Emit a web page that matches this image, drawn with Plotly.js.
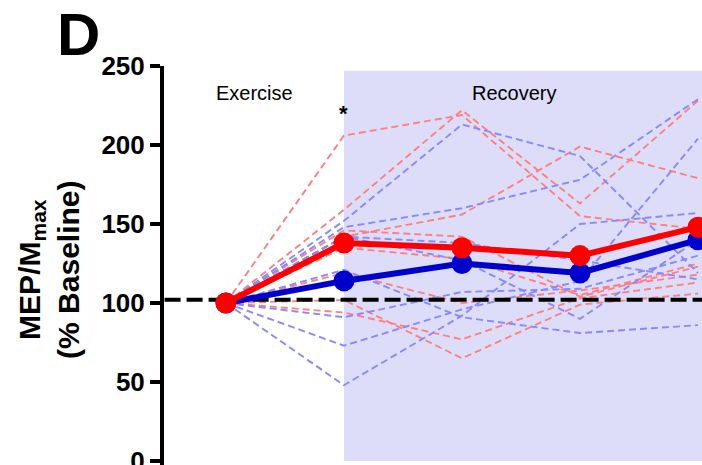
<!DOCTYPE html>
<html>
<head>
<meta charset="utf-8">
<script src="https://cdn.plot.ly/plotly-3.0.1.min.js"></script>
<style>
  html, body { margin: 0; padding: 0; background: #ffffff; }
  #chart { width: 702px; height: 465px; }
</style>
</head>
<body>
<div id="chart"></div>
<script>
// Time points: baseline, end of exercise, then recovery measurements
const timePoints = [0, 1, 2, 3, 4];

// Individual participants, condition A (red), MEP/Mmax as % of baseline
const redSubjects = [
  [100, 206, 219, 155, 147],
  [100, 159, 222, 163, 228],
  [100, 142, 156, 199, 179],
  [100, 146, 142, 104, 123],
  [100, 119, 100, 108, 118],
  [100, 94, 77, 103, 113],
  [100, 102, 65, 99, 106],
  [100, 135, 128, 105, 125]
];

// Individual participants, condition B (blue)
const blueSubjects = [
  [100, 152, 213, 193, 119],
  [100, 148, 160, 178, 229],
  [100, 142, 127, 90, 140],
  [100, 73, 96, 114, 204],
  [100, 48, 92, 150, 157],
  [100, 91, 107, 109, 130],
  [100, 121, 91, 81, 86],
  [100, 142, 138, 127, 115]
];

// Group means
const redMean = [100, 138, 135, 130, 148];
const blueMean = [100, 114, 125, 119, 140];

// Reference level drawn as a dashed line
const baselineLevel = 102;

const yTickValues = [0, 50, 100, 150, 200, 250];
const yTickLabels = ['0', '50', '100', '150', '200', '250'];

const FONT = 'Arial, "Liberation Sans", Helvetica, sans-serif';

const traces = [];

redSubjects.forEach(function (vals) {
  traces.push({
    x: timePoints, y: vals, type: 'scatter', mode: 'lines',
    line: { color: 'rgb(255,128,128)', width: 1.9, dash: '7px,4px' },
    hoverinfo: 'skip', showlegend: false
  });
});
blueSubjects.forEach(function (vals) {
  traces.push({
    x: timePoints, y: vals, type: 'scatter', mode: 'lines',
    line: { color: 'rgb(136,136,255)', width: 1.9, dash: '7px,4px' },
    hoverinfo: 'skip', showlegend: false
  });
});

// Dashed baseline across the whole plot
traces.push({
  x: [-0.52, 4.1], y: [baselineLevel, baselineLevel], type: 'scatter', mode: 'lines',
  line: { color: '#000000', width: 4, dash: '16px,6px' },
  hoverinfo: 'skip', showlegend: false
});

traces.push({
  x: timePoints, y: blueMean, type: 'scatter', mode: 'lines+markers',
  line: { color: 'rgb(0,0,205)', width: 6 },
  marker: { color: 'rgb(0,0,205)', size: 21 },
  showlegend: false
});
traces.push({
  x: timePoints, y: redMean, type: 'scatter', mode: 'lines+markers',
  line: { color: 'rgb(255,0,0)', width: 6 },
  marker: { color: 'rgb(255,0,0)', size: 21 },
  showlegend: false
});

const layout = {
  width: 702,
  height: 465,
  margin: { l: 164, r: 0, t: 66, b: 0, pad: 0 },
  paper_bgcolor: '#ffffff',
  plot_bgcolor: '#ffffff',
  showlegend: false,
  xaxis: {
    range: [-0.525, 4.034],
    visible: false,
    fixedrange: true
  },
  yaxis: {
    range: [-2.5, 250],
    tickvals: yTickValues,
    ticktext: yTickLabels,
    showgrid: false,
    zeroline: false,
    showline: true,
    linecolor: '#000000',
    linewidth: 4,
    ticks: 'outside',
    ticklen: 10,
    tickwidth: 4,
    tickcolor: '#000000',
    ticklabeloverflow: 'allow',
    tickfont: { family: FONT, size: 26, color: '#000000', weight: 700 },
    fixedrange: true
  },
  shapes: [
    {
      type: 'rect', xref: 'x', yref: 'y',
      x0: 1, x1: 4.2, y0: 0, y1: 247,
      fillcolor: 'rgb(221,221,250)', line: { width: 0 }, layer: 'below'
    }
  ],
  annotations: [
    {
      text: 'D', xref: 'paper', yref: 'paper', x: -0.1580, y: 1.0777,
      xanchor: 'center', yanchor: 'middle', showarrow: false,
      font: { family: FONT, size: 60, color: '#000000', weight: 700 }
    },
    {
      text: 'MEP/M<sub>max</sub><br>(% Baseline)', xref: 'paper', yref: 'paper',
      x: -0.2140, y: 0.4887, xanchor: 'center', yanchor: 'middle',
      textangle: -90, showarrow: false,
      font: { family: FONT, size: 30, color: '#000000', weight: 700 }
    },
    {
      text: 'Exercise', xref: 'x', yref: 'y', x: 0.246, y: 233,
      xanchor: 'center', yanchor: 'middle', showarrow: false,
      font: { family: FONT, size: 20, color: '#000000' }
    },
    {
      text: 'Recovery', xref: 'x', yref: 'y', x: 2.44, y: 233,
      xanchor: 'center', yanchor: 'middle', showarrow: false,
      font: { family: FONT, size: 20, color: '#000000' }
    },
    {
      text: '*', xref: 'x', yref: 'y', x: 1, y: 220,
      xanchor: 'center', yanchor: 'middle', showarrow: false,
      font: { family: FONT, size: 22, color: '#000000', weight: 700 }
    }
  ]
};

Plotly.newPlot('chart', traces, layout, { staticPlot: true, displayModeBar: false });
</script>
</body>
</html>
